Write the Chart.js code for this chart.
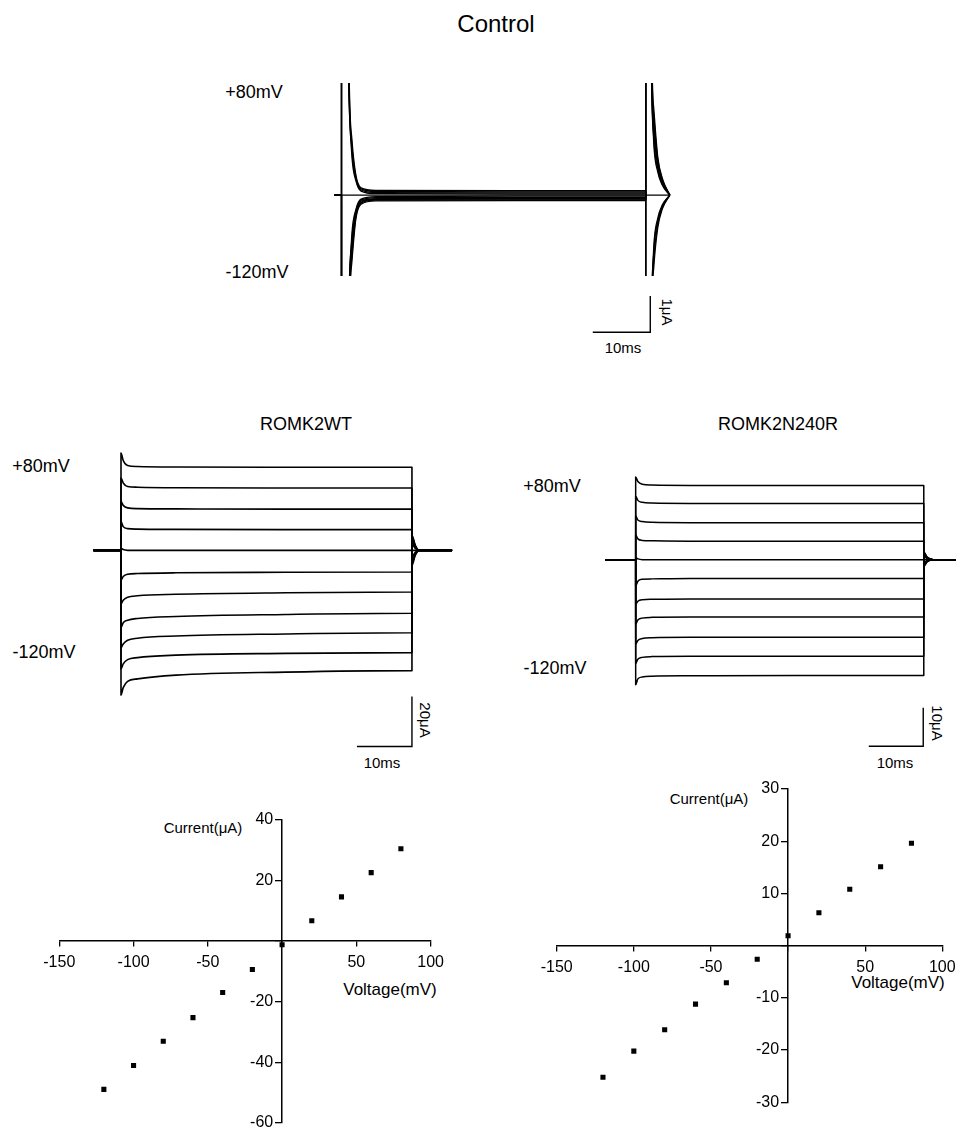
<!DOCTYPE html>
<html>
<head>
<meta charset="utf-8">
<script src="https://cdn.jsdelivr.net/npm/chart.js"></script>
<style>
  body { margin: 0; background: #fff; width: 956px; height: 1130px; overflow: hidden; position: relative;
         font-family: 'Liberation Sans', Arial, sans-serif; color: #000; }
  canvas { position: absolute; }
  .lbl { position: absolute; transform: translate(-50%, -50%); white-space: nowrap; }
  .rot { transform: translate(-50%, -50%) rotate(90deg); }
</style>
</head>
<body>

<div class="lbl" style="left:496px;top:24px;font-size:24px">Control</div>
<div class="lbl" style="left:254px;top:92px;font-size:18px">+80mV</div>
<div class="lbl" style="left:257px;top:272px;font-size:18px">-120mV</div>
<div class="lbl rot" style="left:667px;top:312px;font-size:15px">1μA</div>
<div class="lbl" style="left:623px;top:347px;font-size:15px">10ms</div>

<div class="lbl" style="left:306px;top:424px;font-size:18px">ROMK2WT</div>
<div class="lbl" style="left:41px;top:466px;font-size:18px">+80mV</div>
<div class="lbl" style="left:44px;top:652px;font-size:18px">-120mV</div>
<div class="lbl rot" style="left:425px;top:720px;font-size:15px">20μA</div>
<div class="lbl" style="left:382px;top:762px;font-size:15px">10ms</div>

<div class="lbl" style="left:778px;top:424px;font-size:18px">ROMK2N240R</div>
<div class="lbl" style="left:552px;top:486px;font-size:18px">+80mV</div>
<div class="lbl" style="left:555px;top:668px;font-size:18px">-120mV</div>
<div class="lbl rot" style="left:937px;top:723px;font-size:15px">10μA</div>
<div class="lbl" style="left:895px;top:762px;font-size:15px">10ms</div>

<div class="lbl" style="left:203px;top:827px;font-size:15px">Current(μA)</div>
<div class="lbl" style="left:390px;top:990px;font-size:17px">Voltage(mV)</div>
<div class="lbl" style="left:709px;top:798px;font-size:15px">Current(μA)</div>
<div class="lbl" style="left:898px;top:983px;font-size:17px">Voltage(mV)</div>

<canvas id="ctrl" width="345" height="257" style="left:330px;top:83px"></canvas>
<canvas id="wt" width="374" height="310" style="left:88px;top:445px"></canvas>
<canvas id="mut" width="354" height="277" style="left:603px;top:475px"></canvas>
<canvas id="ivWt" width="420" height="325" style="left:40px;top:805px"></canvas>
<canvas id="ivMut" width="421" height="340" style="left:535px;top:775px"></canvas>

<script>
// step potentials, +80 down to -120 mV
const stepsMv = [80, 60, 40, 20, 0, -20, -40, -60, -80, -100, -120];

// Control (uninjected) oocyte: current in uA at each time (ms)
const ctrlTimes = [-1.2, 0, 0, 1.2, 1.8, 2.5, 3.4, 6, 30, 52.9, 52.9, 53.9, 54.3, 55.0, 55.8, 57.1];
const ctrlTraces = [
  [0, 0, 60, 4.8, 1.55, 0.55, 0.2, 0.13, 0.12, 0.12, -60, -4.4, -2.0, -0.9, -0.38, 0],
  [0, 0, 45, 4.3, 1.4, 0.5, 0.17, 0.1, 0.09, 0.09, -45, -4.0, -1.8, -0.8, -0.34, 0],
  [0, 0, 30, 3.8, 1.25, 0.45, 0.14, 0.07, 0.06, 0.06, -30, -3.6, -1.6, -0.72, -0.3, 0],
  [0, 0, 15, 3.3, 1.1, 0.4, 0.11, 0.04, 0.03, 0.03, -15, -3.3, -1.45, -0.64, -0.27, 0],
  [0, 0, 0, 0, 0, 0, 0, 0, 0, 0, 0, 0, 0, 0, 0, 0],
  [0, 0, -15, -3.3, -1.1, -0.4, -0.11, -0.04, -0.03, -0.03, 15, 3.3, 1.45, 0.64, 0.27, 0],
  [0, 0, -30, -3.8, -1.25, -0.45, -0.14, -0.07, -0.06, -0.06, 30, 3.6, 1.6, 0.72, 0.3, 0],
  [0, 0, -45, -4.3, -1.4, -0.5, -0.17, -0.1, -0.09, -0.09, 45, 4.0, 1.8, 0.8, 0.34, 0],
  [0, 0, -60, -4.8, -1.55, -0.55, -0.2, -0.12, -0.11, -0.11, 60, 4.4, 2.0, 0.9, 0.38, 0],
  [0, 0, -75, -5.2, -1.7, -0.6, -0.22, -0.14, -0.13, -0.13, 75, 4.8, 2.2, 0.98, 0.42, 0],
  [0, 0, -90, -5.6, -1.85, -0.65, -0.25, -0.16, -0.15, -0.15, 90, 5.2, 2.4, 1.05, 0.46, 0]
];

// ROMK2 WT
const wtTimes = [-5, 0, 0, 0.4, 1.2, 3, 10, 30, 52.9, 52.9, 53.5, 54.2, 60.2];
const wtTraces = [
  [0, 0, 39, 36, 34, 33.6, 33.4, 33.3, 33.3, -6, -2, 0, 0],
  [0, 0, 29, 27, 25.6, 25.3, 25.1, 25, 25, -5, -1.7, 0, 0],
  [0, 0, 19.5, 18, 17, 16.7, 16.6, 16.5, 16.5, -4, -1.3, 0, 0],
  [0, 0, 11.5, 9.5, 8.7, 8.5, 8.4, 8.3, 8.3, -2.5, -0.8, 0, 0],
  [0, 0, 0.8, 0.3, 0, 0, 0, 0, 0, 0, 0, 0, 0],
  [0, 0, -12, -10.5, -9.6, -9.3, -9, -8.8, -8.7, 2.5, 0.8, 0, 0],
  [0, 0, -21.5, -20, -18.8, -18.2, -17.6, -17, -16.7, 3.5, 1.2, 0, 0],
  [0, 0, -31, -29, -28, -27.3, -26.5, -25.7, -25.2, 4.5, 1.5, 0, 0],
  [0, 0, -39, -37.5, -36, -35.2, -34.3, -33.5, -33, 5, 1.7, 0, 0],
  [0, 0, -47.5, -45.5, -43.8, -43, -42, -41.3, -41, 5.5, 1.9, 0, 0],
  [0, 0, -58, -55, -52.5, -51.5, -50, -48.8, -48.2, 6, 2, 0, 0]
];

// ROMK2 N240R
const mutTimes = [-5.6, 0, 0, 0.4, 1.2, 3, 10, 30, 52.9, 52.9, 53.5, 54.6, 59];
const mutTraces = [
  [0, 0, 21.5, 20.3, 19.6, 19.4, 19.3, 19.3, 19.3, -1.8, -0.6, 0, 0],
  [0, 0, 16.5, 15.4, 14.9, 14.7, 14.6, 14.6, 14.6, -1.5, -0.5, 0, 0],
  [0, 0, 11.4, 10.3, 9.9, 9.7, 9.6, 9.6, 9.6, -1.2, -0.4, 0, 0],
  [0, 0, 6.4, 5.4, 5.0, 4.9, 4.8, 4.8, 4.8, -0.8, -0.3, 0, 0],
  [0, 0, 0.5, 0.2, 0, 0, 0, 0, 0, 0, 0, 0, 0],
  [0, 0, -6.8, -5.6, -5.1, -5.0, -4.9, -4.9, -4.9, 0.8, 0.3, 0, 0],
  [0, 0, -11.6, -10.8, -10.4, -10.3, -10.2, -10.2, -10.2, 1.2, 0.4, 0, 0],
  [0, 0, -16.8, -15.7, -15.2, -15.0, -14.9, -14.9, -14.9, 1.5, 0.5, 0, 0],
  [0, 0, -22, -21, -20.5, -20.3, -20.2, -20.2, -20.2, 1.7, 0.6, 0, 0],
  [0, 0, -27, -25.9, -25.4, -25.2, -25.1, -25.1, -25.1, 1.9, 0.6, 0, 0],
  [0, 0, -32.5, -31, -30.5, -30.3, -30.2, -30.1, -30.1, 2, 0.7, 0, 0]
];

// I-V relationships
const ivVoltage = [-120, -100, -80, -60, -40, -20, 0, 20, 40, 60, 80];
const ivWT = [-49, -41.1, -33.1, -25.3, -17, -9.4, -1.2, 6.7, 14.6, 22.6, 30.5];
const ivMut = [-25.2, -20.2, -16.1, -11.2, -7.1, -2.6, 1.9, 6.3, 10.8, 15.1, 19.6];

Chart.defaults.font.family = "'Liberation Sans', Arial, sans-serif";
Chart.defaults.color = '#000';

function traceSets(times, rows, width) {
  return rows.map(row => ({
    data: times.map((t, i) => ({ x: t, y: row[i] })),
    borderColor: '#000',
    borderWidth: width,
    borderJoinStyle: 'round',
    pointRadius: 0,
    cubicInterpolationMode: 'monotone',
    fill: false
  }));
}

// L-shaped scale bar: horizontal ms, vertical uA, corner at the right end
function scaleBar(x0, y0, ms, ua) {
  return {
    data: [{ x: x0, y: y0 }, { x: x0 + ms, y: y0 }, { x: x0 + ms, y: y0 + ua }],
    borderColor: '#000', borderWidth: 1.4, pointRadius: 0, tension: 0, clip: false
  };
}

function traceChart(id, sets, xr, yr, padBottom) {
  return new Chart(document.getElementById(id), {
    type: 'line',
    data: { datasets: sets },
    options: {
      responsive: false, animation: false, events: [],
      layout: { padding: { left: 0, right: 0, top: 0, bottom: padBottom } },
      plugins: { legend: { display: false }, tooltip: { enabled: false } },
      scales: {
        x: { type: 'linear', min: xr[0], max: xr[1], display: false },
        y: { type: 'linear', min: yr[0], max: yr[1], display: false }
      }
    }
  });
}

traceChart('ctrl', traceSets(ctrlTimes, ctrlTraces, 1.3).concat([scaleBar(43.7, -3.78, 10, 1)]), [-2, 58], [-2.23, 3.09], 64);
traceChart('wt', traceSets(wtTimes, wtTraces, 1.6).concat([scaleBar(42.9, -78.6, 10, 20)]), [-6, 62], [-82, 42.2], 0);
traceChart('mut', traceSets(mutTimes, mutTraces, 1.5).concat([scaleBar(42.8, -48.5, 10, 10)]), [-6, 59], [-50, 22], 0);

// axes cross at the origin; keep the chart area exactly at the layout padding
function noLabelPadding(scale) {
  scale.paddingLeft = 0;
  scale.paddingRight = 0;
  scale.paddingTop = 0;
  scale.paddingBottom = 0;
}

function ivChart(id, amps, yMin, yMax, yStep, pad) {
  const axisFont = { size: 16 };
  return new Chart(document.getElementById(id), {
    type: 'scatter',
    data: {
      datasets: [{
        data: ivVoltage.map((v, i) => ({ x: v, y: amps[i] })),
        pointStyle: 'rect', pointRadius: 3.6, borderWidth: 0, backgroundColor: '#000'
      }]
    },
    options: {
      responsive: false, animation: false, events: [],
      layout: { padding: pad },
      plugins: { legend: { display: false }, tooltip: { enabled: false } },
      scales: {
        x: {
          type: 'linear', min: -150, max: 100, position: { y: 0 },
          afterFit: noLabelPadding,
          ticks: { stepSize: 50, maxRotation: 0, font: axisFont, padding: 7,
                   callback: v => (v === 0 ? '' : String(v)) },
          grid: { drawOnChartArea: false, drawTicks: true, tickLength: 5, color: '#000', lineWidth: 1.3 },
          border: { color: '#000', width: 1.5 }
        },
        y: {
          type: 'linear', min: yMin, max: yMax, position: { x: 0 },
          afterFit: noLabelPadding,
          // labels sit right-aligned on the axis line, so pad them clear of the tick marks
          ticks: { stepSize: yStep, font: axisFont,
                   callback: v => (v === 0 ? '' : String(v) + '  ') },
          grid: { drawOnChartArea: false, drawTicks: true, tickLength: 6, color: '#000', lineWidth: 1.3 },
          border: { color: '#000', width: 1.5 }
        }
      }
    }
  });
}

ivChart('ivWt', ivWT, -60, 40, 20, { left: 19.3, top: 15, right: 29.4, bottom: 7.3 });
ivChart('ivMut', ivMut, -30, 30, 10, { left: 21.7, top: 14, right: 13.7, bottom: 12.7 });
</script>
</body>
</html>
